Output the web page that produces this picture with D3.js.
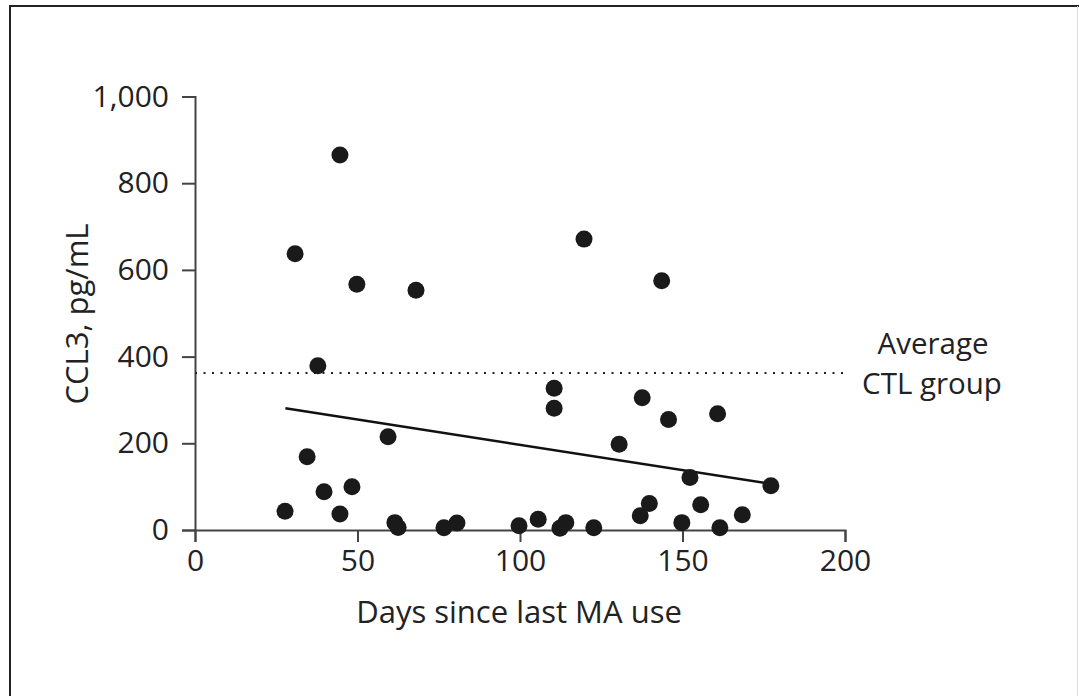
<!DOCTYPE html>
<html>
<head>
<meta charset="utf-8">
<script src="https://cdn.jsdelivr.net/npm/d3@7"></script>
<style>
  html, body { margin: 0; padding: 0; background: #fff; }
  svg { display: block; }
  text { font-family: "Open Sans", "Noto Sans", sans-serif; fill: #222; }
</style>
</head>
<body>
<svg id="chart" width="1079" height="696"></svg>
<script>
// Data
const days = [27.7, 30.8, 34.5, 37.8, 39.7, 44.6, 44.6, 48.3, 49.8, 59.4, 61.5, 62.5, 68.0, 76.6, 80.6,
              99.7, 105.6, 110.5, 110.5, 112.3, 114.1, 119.7, 122.7, 130.5, 137.0, 137.6, 139.8, 143.6,
              145.7, 149.8, 152.3, 155.6, 160.8, 161.5, 168.4, 177.2];
const ccl3 = [43, 637, 169, 379, 88, 865, 37, 100, 567, 215, 17, 6, 553, 5, 16,
              10, 25, 327, 281, 4, 17, 671, 5, 198, 33, 305, 61, 575,
              255, 17, 121, 58, 268, 5, 35, 102];
const fitX = [27.8, 177.5];
const fitY = [281, 106];
const ctlAverage = 362;
const xTicks = [0, 50, 100, 150, 200];
const yTicks = [0, 200, 400, 600, 800, 1000];
const xLabel = "Days since last MA use";
const yLabel = "CCL3, pg/mL";
const refLabel = ["Average", "CTL group"];

const svg = d3.select("#chart");

// frame
svg.append("line").attr("x1", 9).attr("x2", 1079).attr("y1", 6).attr("y2", 6)
  .attr("stroke", "#222").attr("stroke-width", 2);
svg.append("line").attr("x1", 10).attr("x2", 10).attr("y1", 6).attr("y2", 696)
  .attr("stroke", "#222").attr("stroke-width", 2);
svg.append("line").attr("x1", 1077.5).attr("x2", 1077.5).attr("y1", 6).attr("y2", 696)
  .attr("stroke", "#ddd").attr("stroke-width", 1);

const x = d3.scaleLinear().domain([0, 200]).range([195, 845]);
const y = d3.scaleLinear().domain([0, 1000]).range([530, 96.5]);

const tickFont = 30;
const titleFont = 31;

// x axis
const gx = svg.append("g").attr("transform", `translate(0,${y(0)})`)
  .call(d3.axisBottom(x).tickValues(xTicks).tickSize(12).tickSizeOuter(12).tickPadding(8).tickFormat(d3.format("d")));
// y axis
const gy = svg.append("g").attr("transform", `translate(${x(0)},0)`)
  .call(d3.axisLeft(y).tickValues(yTicks).tickSize(13).tickSizeOuter(13).tickPadding(13).tickFormat(d3.format(",")));

[gx, gy].forEach(g => {
  g.selectAll("path, line").attr("stroke", "#444").attr("stroke-width", 2);
  g.selectAll("text").attr("font-size", tickFont).attr("fill", "#222")
    .style("font-family", '"Open Sans", "Noto Sans", sans-serif');
});

// reference line (average CTL group)
svg.append("line")
  .attr("x1", x(0)).attr("x2", x(200))
  .attr("y1", y(ctlAverage)).attr("y2", y(ctlAverage))
  .attr("stroke", "#222").attr("stroke-width", 2)
  .attr("stroke-dasharray", "2,6.5");

svg.append("text").attr("text-anchor", "middle").attr("font-size", 29.5)
  .attr("x", 933).attr("y", 354).text(refLabel[0]);
svg.append("text").attr("text-anchor", "middle").attr("font-size", 29.5)
  .attr("x", 932).attr("y", 394).text(refLabel[1]);

// regression line
svg.append("line")
  .attr("x1", x(fitX[0])).attr("y1", y(fitY[0]))
  .attr("x2", x(fitX[1])).attr("y2", y(fitY[1]))
  .attr("stroke", "#111").attr("stroke-width", 2.5);

// points
svg.append("g").selectAll("circle").data(days.map((d, i) => [d, ccl3[i]]))
  .join("circle")
  .attr("cx", d => x(d[0])).attr("cy", d => y(d[1]))
  .attr("r", 8.5).attr("fill", "#1a1a1a");

// axis titles
svg.append("text").attr("x", 519).attr("y", 623).attr("text-anchor", "middle")
  .attr("font-size", titleFont).text(xLabel);
svg.append("text").attr("transform", `translate(88,314) rotate(-90)`).attr("text-anchor", "middle")
  .attr("font-size", titleFont).text(yLabel);
</script>
</body>
</html>
